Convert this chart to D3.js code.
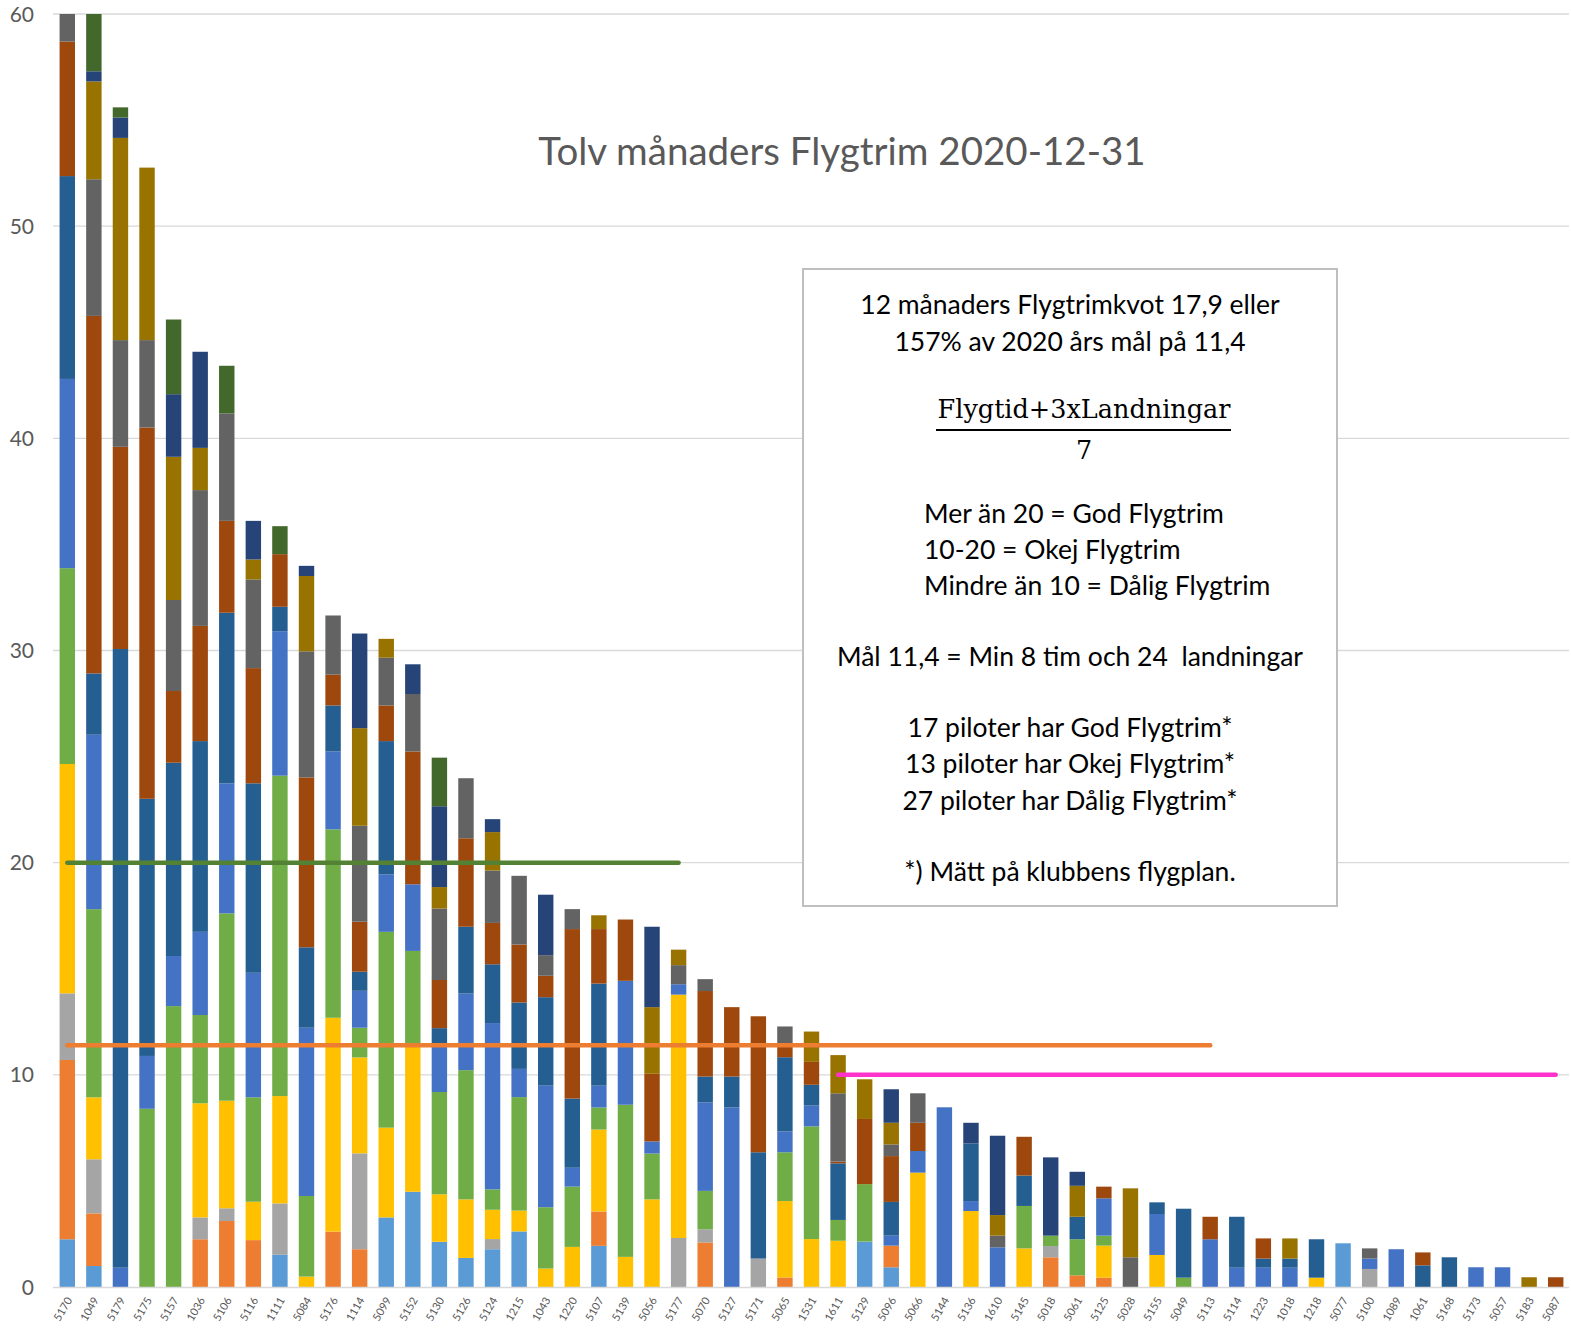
<!DOCTYPE html>
<html>
<head>
<meta charset="utf-8">
<script src="https://cdn.jsdelivr.net/npm/d3@7"></script>
<style>
  html, body { margin: 0; padding: 0; background: #fff; }
  svg { display: block; }
  text { white-space: pre; }
</style>
</head>
<body>
<svg id="chart" width="1571" height="1330"></svg>
<script>
// ---- DATA ----
const categories = ["5170","1049","5179","5175","5157","1036","5106","5116","1111","5084","5176","1114","5099","5152","5130","5126","5124","1215","1043","1220","5107","5139","5056","5177","5070","5127","5171","5065","1531","1611","5129","5096","5066","5144","5136","1610","5145","5018","5061","5125","5028","5155","5049","5113","5114","1223","1018","1218","5077","5100","1089","1061","5168","5173","5057","5183","5087"];

const months = ["jan","feb","mar","apr","maj","jun","jul","aug","sep","okt","nov","dec"];

const jan = [2.25,0.99,0,0,0,0,0,0,1.52,0,0,0,3.28,4.49,2.13,1.37,1.78,2.62,0,0,1.94,0,0,0,0,0,0,0,0,0,2.14,0.93,0,0,0,0,0,0,0,0,0,0,0,0,0,0,0,0,2.06,0,0,0,0,0,0,0,0];
const feb = [8.45,2.48,0,0,0,2.25,3.11,2.21,0,0,2.61,1.78,0,0,0,0,0,0,0,0,1.62,0,0,0,2.1,0,0,0.45,0,0,0,1.02,0,0,0,0,0,1.4,0.55,0.44,0,0,0,0,0,0,0,0,0,0,0,0,0,0,0,0,0];
const mar = [3.14,2.55,0,0,0,1.03,0.6,0,2.42,0,0,4.52,0,0,0,0,0.48,0,0,0,0,0,0,2.31,0.62,0,1.34,0,0,0,0,0,0,0,0,0,0,0.53,0,0,0,0,0,0,0,0,0,0,0,0.85,0,0,0,0,0,0,0];
const apr = [10.81,2.92,0,0,0,5.38,5.07,1.81,5.06,0.49,10.08,4.52,4.23,6.91,2.24,2.76,1.38,0.98,0.87,1.89,3.86,1.42,4.13,11.47,0,0,0,3.6,2.26,2.18,0,0,5.39,0,3.58,0,1.82,0,0,1.51,0,1.51,0,0,0,0,0,0.44,0,0,0,0,0,0,0,0,0];
const maj = [9.23,8.87,0,8.4,13.24,4.16,8.83,4.92,15.1,3.8,8.88,1.4,9.23,4.44,4.82,6.09,0.96,5.35,2.89,2.84,1.04,7.17,2.16,0,1.81,0,0,2.3,5.31,0.98,2.71,0,0,0,0,0,2.0,0.49,1.7,0.47,0,0,0.44,0,0,0,0,0,0,0,0,0,0,0,0,0,0];
const jun = [8.92,8.22,0.91,2.49,2.36,3.92,6.13,5.87,6.81,7.93,3.67,1.74,2.71,3.14,2.21,3.61,7.84,1.33,5.73,0.89,1.03,5.84,0.57,0.49,4.17,8.46,0,0.98,0.98,0,0,0.47,1.02,8.47,0.47,1.87,0,0,0,1.76,0,1.93,0,2.25,0.91,0.91,0.91,0,0,0.49,1.78,0,0,0.93,0.93,0,0];
const jul = [9.56,2.89,29.16,12.12,9.11,8.99,8.04,8.93,1.15,3.79,2.17,0.9,6.28,0,0.8,3.15,2.77,3.13,4.17,3.26,4.81,0,0,0,1.22,1.46,5.01,3.5,0.98,2.67,0,1.59,0,0,2.72,0,1.43,0,1.06,0,0,0.55,3.25,0,2.4,0.43,0.43,1.81,0,0,0,1.02,1.4,0,0,0,0];
const aug = [6.34,16.85,9.53,17.5,3.38,5.43,4.33,5.43,2.48,8.01,1.45,2.36,1.68,6.26,2.27,4.17,1.95,2.73,1.01,7.99,2.57,2.89,3.19,0,4.03,3.27,6.41,0.55,1.08,0.08,3.07,2.16,1.33,0,0,0,1.83,0,0,0.55,0,0,0,1.06,0,0.95,0,0,0,0,0,0.61,0,0,0,0,0.46];
const sep = [1.6,6.44,5.03,4.12,4.29,6.4,5.06,4.18,0,5.94,2.79,4.52,2.25,2.71,3.37,2.83,2.47,3.24,0.97,0.94,0,0,0,0.9,0.56,0,0,0.9,0,3.22,0,0.55,1.39,0,0,0.55,0,0,0,0,1.4,0,0,0,0,0,0,0,0,0.48,0,0,0,0,0,0,0];
const okt = [0,4.61,9.53,8.13,6.75,1.99,0,0.94,0,3.55,0,4.6,0.89,0,1.01,0,1.81,0,0,0,0.65,0,3.14,0.73,0,0,0,0,1.43,1.8,1.87,1.02,0,0,0,0.97,0,0,1.46,0,3.25,0,0,0,0,0,0.95,0,0,0,0,0,0,0,0,0.46,0];
const nov = [0,0.48,0.96,0,2.95,4.53,0,1.82,0,0.48,0,4.46,0,1.4,3.81,0,0.61,0,2.85,0,0,0,3.79,0,0,0,0,0,0,0,0,1.58,0,0,0.97,3.74,0,3.69,0.66,0,0,0,0,0,0,0,0,0,0,0,0,0,0,0,0,0,0];
const dec = [0,3.0,0.48,0,3.52,0,2.25,0,1.32,0,0,0,0,0,2.29,0,0,0,0,0,0,0,0,0,0,0,0,0,0,0,0,0,0,0,0,0,0,0,0,0,0,0,0,0,0,0,0,0,0,0,0,0,0,0,0,0,0];

const seriesValues = [jan,feb,mar,apr,maj,jun,jul,aug,sep,okt,nov,dec];
const seriesColors = ["#5B9BD5","#ED7D31","#A5A5A5","#FFC000","#70AD47","#4472C4","#255E91","#9E480E","#636363","#997300","#264478","#43682B"];

const yTicks = [0,10,20,30,40,50,60];

// Reference lines: value, from category, to category
const refValues = [20, 11.4, 10];
const refFrom = ["5170","5170","1611"];
const refTo = ["5177","5113","5087"];
const refColors = ["#548235","#ED7D31","#FF33CC"];

const titleText = "Tolv månaders Flygtrim 2020-12-31";
const boxLinesTop = ["12 månaders Flygtrimkvot 17,9 eller", "157% av 2020 års mål på 11,4"];
const fracNum = "Flygtid+3xLandningar";
const fracDen = "7";
const boxLinesLeft = ["Mer än 20 = God Flygtrim", "10-20 = Okej Flygtrim", "Mindre än 10 = Dålig Flygtrim"];
const boxLineGoal = "Mål 11,4 = Min 8 tim och 24  landningar";
const boxLinesCount = ["17 piloter har God Flygtrim*", "13 piloter har Okej Flygtrim*", "27 piloter har Dålig Flygtrim*"];
const boxFoot = "*) Mätt på klubbens flygplan.";

// ---- CHART ----
(function () {
const svg = d3.select("#chart");
const W = 1571;
const pLeft = 54, pRight = 1569, pTop = 14, pBottom = 1287;

const x = d3.scaleBand().domain(categories).range([pLeft, pRight]).paddingInner(0.42).paddingOuter(0.21);
const y = d3.scaleLinear().domain([0, 60]).range([pBottom, pTop]);

const rows = categories.map((c, i) => {
  const r = { cat: c };
  months.forEach((m, k) => r[m] = seriesValues[k][i]);
  return r;
});
const stacked = d3.stack().keys(months)(rows);

svg.append("defs").append("clipPath").attr("id", "plotclip")
  .append("rect").attr("x", 0).attr("y", y(60)).attr("width", W).attr("height", y(0) - y(60));

// gridlines
svg.append("g").selectAll("line").data(yTicks.filter(d => d > 0)).join("line")
  .attr("x1", pLeft - 1).attr("x2", pRight)
  .attr("y1", d => y(d)).attr("y2", d => y(d))
  .attr("stroke", "#D9D9D9").attr("stroke-width", 1.3);

// y labels
svg.append("g").selectAll("text").data(yTicks).join("text")
  .attr("x", 34).attr("y", d => y(d)).attr("dy", "0.36em")
  .attr("text-anchor", "end")
  .attr("font-family", "Lato, 'Open Sans', sans-serif")
  .attr("font-size", 21).attr("fill", "#595959")
  .text(d => d);

// bars
const gBars = svg.append("g").attr("clip-path", "url(#plotclip)");
gBars.selectAll("g").data(stacked).join("g")
  .attr("fill", (d, i) => seriesColors[i])
  .selectAll("rect").data(d => d.filter(p => p[1] - p[0] > 0)).join("rect")
  .attr("x", d => x(d.data.cat))
  .attr("width", x.bandwidth())
  .attr("y", d => y(d[1]))
  .attr("height", d => y(d[0]) - y(d[1]));

// baseline
svg.append("line").attr("x1", pLeft - 1).attr("x2", pRight)
  .attr("y1", y(0) + 0.5).attr("y2", y(0) + 0.5)
  .attr("stroke", "#D9D9D9").attr("stroke-width", 1.5);

// x labels
svg.append("g").selectAll("text").data(categories).join("text")
  .attr("transform", d => `translate(${x(d) + x.bandwidth() / 2 + 2},${y(0) + 11}) rotate(-60)`)
  .attr("text-anchor", "end").attr("dy", "0.35em")
  .attr("font-family", "Lato, 'Open Sans', sans-serif")
  .attr("font-size", 11).attr("fill", "#595959")
  .text(d => d);

// text box
const bx = 803, by = 269, bw = 534, bh = 637;
svg.append("rect").attr("x", bx).attr("y", by).attr("width", bw).attr("height", bh)
  .attr("fill", "#fff").attr("stroke", "#BFBFBF").attr("stroke-width", 2);

// reference lines
svg.append("g").selectAll("line").data(refValues).join("line")
  .attr("x1", (d, i) => x(refFrom[i]) + x.bandwidth() / 2)
  .attr("x2", (d, i) => x(refTo[i]) + x.bandwidth() / 2)
  .attr("y1", d => y(d)).attr("y2", d => y(d))
  .attr("stroke", (d, i) => refColors[i])
  .attr("stroke-width", 4.5).attr("stroke-linecap", "round");

// title
svg.append("text").attr("x", 842).attr("y", 165).attr("text-anchor", "middle")
  .attr("font-family", "Lato, sans-serif").attr("font-size", 38.5).attr("fill", "#595959")
  .text(titleText);

const cx = bx + bw / 2;
const fs = 26.5;
const gt = svg.append("g").attr("font-family", "Lato, sans-serif").attr("font-size", fs).attr("fill", "#000");
gt.selectAll("text.top").data(boxLinesTop).join("text").attr("class", "top")
  .attr("x", cx).attr("y", (d, i) => 314 + i * 36.5).attr("text-anchor", "middle").text(d => d);

svg.append("text").attr("x", 1084).attr("y", 418).attr("text-anchor", "middle")
  .attr("font-family", "'DejaVu Serif', serif").attr("font-size", 25.5).attr("fill", "#000")
  .text(fracNum);
svg.append("line").attr("x1", 936).attr("x2", 1231).attr("y1", 430).attr("y2", 430)
  .attr("stroke", "#000").attr("stroke-width", 2);
svg.append("text").attr("x", 1084).attr("y", 459).attr("text-anchor", "middle")
  .attr("font-family", "'DejaVu Serif', serif").attr("font-size", 25.5).attr("fill", "#000")
  .text(fracDen);

gt.selectAll("text.left").data(boxLinesLeft).join("text").attr("class", "left")
  .attr("x", 924).attr("y", (d, i) => 523 + i * 36).attr("text-anchor", "start").text(d => d);
gt.append("text").attr("x", cx).attr("y", 666).attr("text-anchor", "middle").text(boxLineGoal);
gt.selectAll("text.cnt").data(boxLinesCount).join("text").attr("class", "cnt")
  .attr("x", cx).attr("y", (d, i) => 737 + i * 36.3).attr("text-anchor", "middle").text(d => d);
gt.append("text").attr("x", cx).attr("y", 881).attr("text-anchor", "middle").text(boxFoot);
})();
</script>
</body>
</html>
